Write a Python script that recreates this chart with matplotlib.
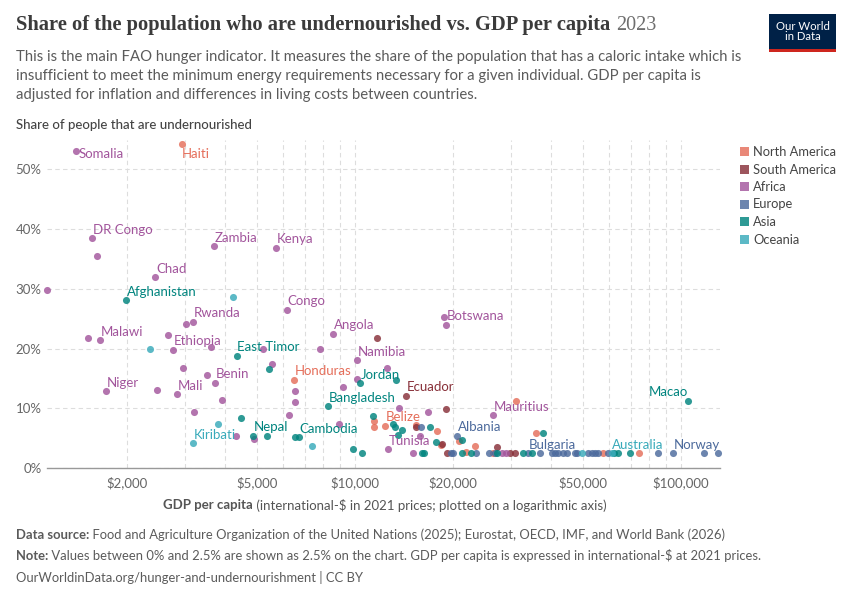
import numpy as np
import matplotlib
matplotlib.use("Agg")
import matplotlib.pyplot as plt
from matplotlib.patches import Rectangle
from matplotlib.ticker import FixedLocator, NullFormatter

W, H = 850, 600

# ---- data (GDP per capita in int.-$, share undernourished in %) ----
africa_gdp = [1393, 1560, 1619, 3690, 5730, 2440, 1135, 6180, 3178, 3027, 1652, 1514, 2663, 2761,
              3606, 5235, 7820, 5560, 2958, 3714, 3508, 1718, 2477, 2851, 3900, 3213, 6549, 6549,
              6265, 4325, 4890, 8580, 10120, 12510, 10120, 9210, 13670, 16720, 26420, 18750, 18970,
              12650, 8930, 15100, 28200, 29060, 15820]
africa_share = [53.1, 38.5, 35.5, 37.2, 36.9, 32.0, 29.8, 26.5, 24.5, 24.2, 21.4, 21.8, 22.2, 19.8,
                20.2, 19.9, 19.9, 17.5, 16.8, 14.3, 15.5, 12.9, 13.1, 12.4, 11.4, 9.3, 12.9, 11.1,
                8.8, 5.4, 4.9, 22.5, 18.1, 16.7, 14.9, 13.6, 10.1, 9.4, 8.8, 25.3, 24.0,
                3.1, 7.4, 2.5, 2.5, 2.5, 5.4]
africa_names = {0: "Somalia", 1: "DR Congo", 3: "Zambia", 4: "Kenya", 5: "Chad", 7: "Congo",
                8: "Rwanda", 10: "Malawi", 13: "Ethiopia", 19: "Benin", 21: "Niger", 23: "Mali",
                31: "Angola", 32: "Namibia", 38: "Mauritius", 40: "Botswana", 41: "Tunisia"}

asia_gdp = [1982, 4337, 5434, 10340, 13330, 8245, 4458, 4855, 5353, 6713, 6549, 11350, 13100,
            13270, 13900, 13520, 17700, 17020, 9880, 10490, 21250, 105000, 37840, 16030, 16300,
            21250, 22700, 27340, 32830, 34820, 62380, 64260, 69780]
asia_share = [28.1, 18.8, 16.6, 14.2, 14.7, 10.4, 8.4, 5.4, 5.4, 5.2, 5.2, 8.7, 7.4,
              6.9, 6.4, 5.5, 4.4, 6.9, 3.1, 2.5, 4.7, 11.3, 5.9, 2.5, 2.5,
              2.5, 2.5, 2.5, 2.5, 2.5, 2.5, 2.5, 2.5]
asia_names = {0: "Afghanistan", 1: "East Timor", 3: "Jordan", 5: "Bangladesh", 7: "Nepal",
              9: "Cambodia", 21: "Macao"}

oceania_gdp = [4218, 2350, 3178, 3796, 7360, 49580, 61260]
oceania_share = [28.7, 19.9, 4.2, 7.3, 3.7, 2.5, 2.5]
oceania_names = {2: "Kiribati", 6: "Australia"}

na_gdp = [2936, 6490, 12330, 11440, 11440, 15350, 17820, 18340, 20800, 23340, 21880, 35900,
          31190, 57740, 74520, 26570]
na_share = [54.2, 14.8, 7.1, 7.8, 6.8, 7.2, 6.2, 3.8, 4.5, 3.7, 2.7, 5.8,
            11.3, 2.5, 2.5, 2.5]
na_names = {0: "Haiti", 1: "Honduras", 2: "Belize"}

sa_gdp = [11660, 14330, 18960, 15380, 18540, 27200, 19100, 29880, 30950]
sa_share = [21.8, 12.1, 9.8, 6.9, 4.1, 3.6, 2.5, 2.5, 2.5]
sa_names = {1: "Ecuador"}

europe_gdp = [20520, 15920, 33960, 94360, 19680, 19960, 23500, 25830, 26810, 36920, 40090, 41030,
              42040, 43560, 44590, 47290, 48060, 51970, 53230, 54480, 55740, 59840, 85150,
              117700, 130100]
europe_share = [5.4, 6.9] + [2.5] * 23
europe_names = {0: "Albania", 2: "Bulgaria", 3: "Norway"}

regions = ["North America", "South America", "Africa", "Europe", "Asia", "Oceania"]
colors = {"North America": "#E56E5A", "South America": "#883039", "Africa": "#A2559C",
          "Europe": "#4C6A9C", "Asia": "#00847E", "Oceania": "#38AABA"}
series = {"North America": (na_gdp, na_share, na_names),
          "South America": (sa_gdp, sa_share, sa_names),
          "Africa": (africa_gdp, africa_share, africa_names),
          "Europe": (europe_gdp, europe_share, europe_names),
          "Asia": (asia_gdp, asia_share, asia_names),
          "Oceania": (oceania_gdp, oceania_share, oceania_names)}

x_ticks = [2000, 5000, 10000, 20000, 50000, 100000]
y_ticks = [0, 10, 20, 30, 40, 50]

plt.rcParams['font.family'] = ['Lato', 'DejaVu Sans']

fig = plt.figure(figsize=(W / 100, H / 100), dpi=100)


def fx(x):
    return x / W


def fy(y):
    return 1 - y / H


ax = fig.add_axes([fx(47), fy(468), (720 - 47) / W, (468 - 140) / H])
ax.set_xscale('log')
ax.set_xlim(1135, 131700)
ax.set_ylim(0, 54.94)

# grid
minor = [m * 10 ** e for e in (3, 4, 5) for m in range(1, 10)]
ax.xaxis.set_major_locator(FixedLocator(x_ticks))
ax.xaxis.set_minor_locator(FixedLocator([v for v in minor if v not in x_ticks]))
ax.xaxis.set_minor_formatter(NullFormatter())
ax.set_xticklabels(["${:,}".format(v) for v in x_ticks])
ax.set_yticks(y_ticks)
ax.set_yticklabels(["{}%".format(v) for v in y_ticks])
ax.grid(True, which='both', axis='x', color='#dddddd', lw=0.8, ls=(0, (4, 3)))
ax.grid(True, which='major', axis='y', color='#dddddd', lw=0.8, ls=(0, (4, 3)))
ax.set_axisbelow(True)
ax.tick_params(axis='both', which='both', length=0, labelsize=9.5, labelcolor='#666666')
ax.tick_params(axis='x', pad=6)
ax.tick_params(axis='y', pad=4)
for s in ('top', 'right', 'left'):
    ax.spines[s].set_visible(False)
ax.spines['bottom'].set_color('#999999')
ax.spines['bottom'].set_linewidth(1)

# points and labels
special = {"Somalia": ((1.5, -2), 'left'), "Haiti": ((0, -7), 'left'),
           "Macao": ((0, 6), 'right')}
for reg in regions:
    gdp, share, names = series[reg]
    c = colors[reg]
    ax.scatter(gdp, share, s=26, color=c, alpha=0.82, linewidths=0, clip_on=False, zorder=3)
    for i, name in names.items():
        off, ha = special.get(name, ((0.5, 6), 'left'))
        ax.annotate(name, (gdp[i], share[i]), xytext=off, textcoords='offset points',
                    ha=ha, va='center', fontsize=9.5, color=c, zorder=4)

# title block
t = fig.text(fx(16), fy(30), "Share of the population who are undernourished vs. GDP per capita",
             fontsize=14.8, family=['Liberation Serif'], weight='bold', color='#3b3b3b', va='baseline')
r = fig.canvas.get_renderer()
bb = t.get_window_extent(r)
fig.text(bb.x1 / W + fx(6), fy(30), "2023", fontsize=14.5, family=['Liberation Serif'],
         color='#6e6e6e', va='baseline')

sub = ["This is the main FAO hunger indicator. It measures the share of the population that has a caloric intake which is",
       "insufficient to meet the minimum energy requirements necessary for a given individual. GDP per capita is",
       "adjusted for inflation and differences in living costs between countries."]
for k, line in enumerate(sub):
    fig.text(fx(16), fy(57 + 19 * k), line, fontsize=10.68, color='#5b5b5b', va='center')

fig.text(fx(16), fy(125), "Share of people that are undernourished", fontsize=9.5,
         weight='medium', color='#444444', va='center')


def rich(x, y, parts, size, color, ha='left'):
    arts = []
    for s, w in parts:
        arts.append(fig.text(0, fy(y), s, fontsize=size, weight=w, color=color, va='center'))
    widths = [a.get_window_extent(r).width for a in arts]
    total = sum(widths)
    start = x - total / 2 if ha == 'center' else x
    for a, wd in zip(arts, widths):
        a.set_x(fx(start))
        start += wd


rich(384.5, 505, [("GDP per capita", 'bold'),
                  (" (international-$ in 2021 prices; plotted on a logarithmic axis)", 'normal')],
     9.55, '#555555', ha='center')

rich(16, 535, [("Data source:", 'bold'),
               (" Food and Agriculture Organization of the United Nations (2025); Eurostat, OECD, IMF, and World Bank (2026)", 'normal')],
     9.35, '#5b5b5b')
rich(16, 556, [("Note:", 'bold'),
               (" Values between 0% and 2.5% are shown as 2.5% on the chart. GDP per capita is expressed in international-$ at 2021 prices.", 'normal')],
     9.4, '#5b5b5b')
fig.text(fx(16), fy(577), "OurWorldinData.org/hunger-and-undernourishment | CC BY", fontsize=9.35,
         color='#5b5b5b', va='center')

# legend
for k, reg in enumerate(regions):
    yc = 152 + 17.5 * k
    fig.add_artist(Rectangle((fx(740), fy(yc + 4.5)), 9 / W, 9 / H, transform=fig.transFigure,
                             color=colors[reg], alpha=0.82, lw=0))
    fig.text(fx(753), fy(yc), reg, fontsize=9.3, color='#444444', va='center')

# logo
fig.add_artist(Rectangle((fx(769), fy(49)), 67 / W, 35 / H, transform=fig.transFigure,
                         color='#002147', lw=0))
fig.add_artist(Rectangle((fx(769), fy(52)), 67 / W, 3 / H, transform=fig.transFigure,
                         color='#ce261e', lw=0))
fig.text(fx(802.5), fy(31.5), "Our World\nin Data", fontsize=8.2, color='white', ha='center',
         va='center', linespacing=1.0)

fig.savefig("out.png", dpi=100)
